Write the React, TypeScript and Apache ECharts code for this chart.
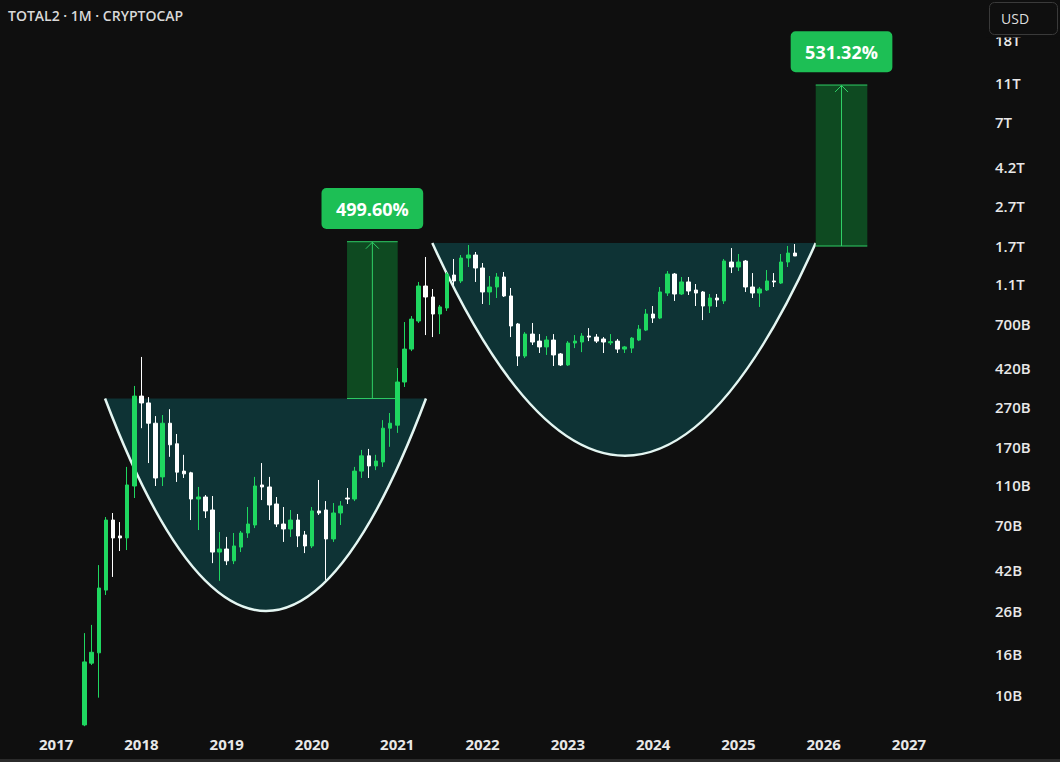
import React, { useEffect, useRef } from "react";
import * as echarts from "echarts";

// Monthly TOTAL2 candles, values in billions of USD (May 2017 .. Sep 2025)
const firstYear = 2017;
const firstMonthNum = 5;
const opens = [
  7.1, 14.4, 16.2, 33.2, 74.0, 61.7, 60.3, 109.2,
  305.5, 282.4, 224, 121.2, 224, 177, 129.5, 127, 94.1, 96.3, 83.0, 51.3,
  53.1, 46.4, 54.3, 63.8, 69.9, 110.5, 108, 88.9, 70.7, 66.8, 74.0, 62.4,
  55.0, 82.1, 83.0, 59.6, 80.2, 95.2, 94.1, 129.5, 154.2, 137.4, 143.7, 211.6,
  219, 358.8, 523, 721, 1076, 949, 781, 837, 1220, 1140, 1482, 1534,
  1322, 1005, 1064, 1193, 960, 697, 483, 621, 573, 536, 580, 494.6,
  436, 560.6, 567, 607, 600, 587, 562, 573, 523, 529, 580, 650,
  781, 746, 993, 1234, 982, 1127, 1028, 1005, 856, 938, 907, 1416,
  1337, 1432, 1064, 993, 1028, 1140, 1113, 1416, 1569,
];
const closes = [
  14.6, 16.3, 34.0, 74.0, 60.3, 60.3, 110.5, 305.5,
  282.4, 224, 119.7, 224, 175, 128, 125.5, 94.1, 96.3, 82.1, 51.3, 53.1,
  46.4, 55.0, 63.8, 70.7, 109.2, 108, 87.9, 70.7, 66.8, 74.0, 61.7, 55.0,
  82.1, 80.2, 59.6, 80.2, 86.9, 94.1, 129.5, 154.2, 137.4, 145.3, 211.6, 224,
  358.8, 523, 737, 1076, 949, 781, 847, 1234, 1140, 1482, 1534, 1322,
  1005, 1064, 1193, 960, 681, 483, 621, 567, 536, 580, 489, 436,
  560.6, 573, 607, 600, 573, 567, 569, 523, 536, 593, 657, 781,
  746, 1005, 1234, 982, 1127, 1016, 993, 856, 938, 917, 1432, 1337,
  1416, 1064, 993, 1040, 1140, 1127, 1416, 1569, 1517,
];
const lows = [
  7.0, 14.1, 9.7, 31.4, 38.6, 51.9, 52.5, 95.2,
  211.6, 142, 109.2, 109.2, 152.5, 114.4, 119.7, 74, 66, 75.7, 45.2, 36.9,
  44.2, 44.7, 51.3, 60.3, 67.5, 93, 74, 68.3, 57.6, 61.0, 54.3, 50.7,
  53.7, 78.4, 37.3, 57.6, 69.9, 88.9, 91.9, 119.7, 119.7, 131, 135.9, 171,
  200.5, 339, 511, 705, 614, 600, 621, 809, 1088, 1113, 1337, 1127,
  876, 866, 938, 949, 600, 431, 472, 548, 500, 489, 431, 431,
  431, 529, 505, 573, 560.6, 500, 548, 500, 500, 500, 573, 642.6,
  705, 737, 960, 907, 971, 971, 856, 729, 790, 847, 876, 1248,
  1277, 1005, 938, 847, 1016, 1064, 1101, 1337, 1517,
];
const highs = [
  20.3, 22.3, 44.2, 76.6, 80.2, 72.3, 135.9, 343,
  478, 302, 243, 246, 263, 198, 156, 128.5, 108, 98.5, 97.4, 64.5,
  61.0, 63.8, 65.3, 85.9, 121.2, 142, 121.2, 96.3, 85.9, 83.0, 79.3, 65.3,
  85.9, 117, 91.9, 89.9, 91.9, 106.7, 135.9, 165, 166.9, 156, 232, 251.7,
  421, 712.6, 763, 1127, 1500, 1040, 866, 1263, 1466, 1534, 1720, 1588,
  1400, 1206, 1248, 1263, 1052, 705, 635, 705, 621, 607, 621, 500,
  573, 614, 628, 665, 621, 600, 621, 587, 542, 600, 689, 827,
  856, 1064, 1277, 1248, 1193, 1193, 1101, 1016, 982, 982, 1466, 1661,
  1552, 1449, 1248, 1064, 1292, 1248, 1552, 1701, 1740,
];

// Axis ticks
const yearLabels = ["2017", "2018", "2019", "2020", "2021", "2022", "2023", "2024", "2025", "2026", "2027"];
const priceTicksB = [10, 16, 26, 42, 70, 110, 170, 270, 420, 700, 1100, 1700, 2700, 4200, 7000, 11000, 18000];
const priceTickLabels = ["10B", "16B", "26B", "42B", "70B", "110B", "170B", "270B", "420B", "700B", "1.1T", "1.7T", "2.7T", "4.2T", "7T", "11T", "18T"];
const yRangeB = [6.701, 28358];
const xRangeMonths = [-7.9, 130.7]; // months counted from Jan 2017

// Cup annotations (month index from Jan 2017, values in billions)
const cupLeftMonth = [6.88, 52.93];
const cupRightMonth = [52.04, 106.88];
const cupBottomMonth = [29.53, 80.04];
const cupRimB = [297, 1760];
const cupBottomB = [26.15, 154.5];

// Measured-move boxes
const boxLeftMonth = [40.93, 106.88];
const boxRightMonth = [48.06, 114.14];
const boxFromB = [297, 1700];
const boxToB = [1786, 10723];
const boxLabels = ["499.60%", "531.32%"];

const months: string[] = opens.map((_, i) => {
  const t = firstYear * 12 + (firstMonthNum - 1) + i;
  const y = Math.floor(t / 12);
  const m = (t % 12) + 1;
  return `${y}-${String(m).padStart(2, "0")}`;
});
const monthIndex = (label: string) => {
  const [y, m] = label.split("-").map(Number);
  return (y - firstYear) * 12 + (m - 1);
};

const GREEN = "#1fd760";
const WHITE = "#ffffff";
const BG = "#0f0f0f";
const FONT = "'Open Sans', 'Noto Sans', sans-serif";
const lg = (v: number) => Math.log10(v);

export default function App() {
  const ref = useRef<HTMLDivElement>(null);
  useEffect(() => {
    if (!ref.current) return;
    const chart = echarts.init(ref.current, undefined, { renderer: "svg" });
    const candleData = months.map((mo, i) => [monthIndex(mo), lg(opens[i]), lg(closes[i]), lg(lows[i]), lg(highs[i])]);
    const tickLogs = priceTicksB.map(lg);

    const option: any = {
      animation: false,
      backgroundColor: BG,
      grid: { left: 0, right: 75, top: 0, bottom: 32, containLabel: false },
      xAxis: {
        type: "value",
        min: xRangeMonths[0],
        max: xRangeMonths[1],
        axisLine: { show: false },
        axisTick: { show: false },
        splitLine: { show: false },
        axisLabel: {
          customValues: yearLabels.map((_, i) => i * 12),
          formatter: (v: number) => yearLabels[Math.round(v / 12)] ?? "",
          color: "#e8e8e8",
          fontSize: 15,
          fontWeight: 700,
          fontFamily: FONT,
          margin: 6,
        },
      },
      yAxis: {
        type: "value",
        position: "right",
        min: lg(yRangeB[0]),
        max: lg(yRangeB[1]),
        axisLine: { show: false },
        axisTick: { show: false },
        splitLine: { show: false },
        axisLabel: {
          customValues: tickLogs,
          formatter: (v: number) => {
            let best = 0;
            tickLogs.forEach((t, i) => {
              if (Math.abs(t - v) < Math.abs(tickLogs[best] - v)) best = i;
            });
            return priceTickLabels[best];
          },
          color: "#e8e8e8",
          fontSize: 15,
          fontWeight: 600,
          fontFamily: FONT,
          margin: 10,
          align: "left",
        },
      },
      series: [
        {
          type: "custom",
          z: 1,
          silent: true,
          data: cupRimB.map((r, i) => [cupBottomMonth[i], lg(r)]),
          encode: { x: 0, y: 1 },
          renderItem: (params: any, api: any) => {
            const i = params.dataIndex;
            const p0 = api.coord([cupLeftMonth[i], lg(cupRimB[i])]);
            const p2 = api.coord([cupRightMonth[i], lg(cupRimB[i])]);
            const pb = api.coord([cupBottomMonth[i], lg(cupBottomB[i])]);
            const cx = 2 * pb[0] - (p0[0] + p2[0]) / 2;
            const cy = 2 * pb[1] - (p0[1] + p2[1]) / 2;
            const d = `M${p0[0]},${p0[1]} Q${cx},${cy} ${p2[0]},${p2[1]}`;
            return {
              type: "group",
              children: [
                { type: "path", shape: { pathData: d + " Z" }, style: { fill: "#0e3335", stroke: "none" } },
                { type: "path", shape: { pathData: d }, style: { fill: "none", stroke: "#e4f6f2", lineWidth: 2.5 } },
              ],
            };
          },
        },
        {
          type: "custom",
          z: 2,
          silent: true,
          data: boxFromB.map((b, i) => [boxLeftMonth[i], lg(b)]),
          encode: { x: 0, y: 1 },
          renderItem: (params: any, api: any) => {
            const i = params.dataIndex;
            const bl = api.coord([boxLeftMonth[i], lg(boxFromB[i])]);
            const tr = api.coord([boxRightMonth[i], lg(boxToB[i])]);
            const x0 = bl[0], x1 = tr[0], yb = bl[1], yt = tr[1];
            const cx = (x0 + x1) / 2;
            const lw = 101.7, lh = 41, gap = 12.7;
            return {
              type: "group",
              children: [
                { type: "rect", shape: { x: x0, y: yt, width: x1 - x0, height: yb - yt }, style: { fill: "#0e4a21" } },
                { type: "line", shape: { x1: x0, y1: yt, x2: x1, y2: yt }, style: { stroke: "#2fcf66", lineWidth: 1 } },
                { type: "line", shape: { x1: x0, y1: yb, x2: x1, y2: yb }, style: { stroke: "#2fcf66", lineWidth: 1 } },
                { type: "line", shape: { x1: cx, y1: yb, x2: cx, y2: yt + 0.5 }, style: { stroke: "#2fcf66", lineWidth: 1 } },
                { type: "polyline", shape: { points: [[cx - 6.5, yt + 7], [cx, yt + 0.5], [cx + 6.5, yt + 7]] }, style: { stroke: "#2fcf66", lineWidth: 1, fill: "none" } },
                { type: "rect", shape: { x: cx - lw / 2, y: yt - gap - lh, width: lw, height: lh, r: 5 }, style: { fill: "#1dbf55" } },
                {
                  type: "text",
                  x: cx,
                  y: yt - gap - lh / 2,
                  style: {
                    text: boxLabels[i],
                    fill: "#ffffff",
                    fontSize: 18,
                    fontWeight: 700,
                    fontFamily: FONT,
                    align: "center",
                    verticalAlign: "middle",
                  },
                },
              ],
            };
          },
        },
        {
          type: "candlestick",
          z: 5,
          silent: true,
          data: candleData,
          encode: { x: 0, y: [1, 2, 3, 4] },
          barWidth: 4,
          itemStyle: {
            color: GREEN,
            color0: WHITE,
            borderColor: GREEN,
            borderColor0: WHITE,
            borderColorDoji: WHITE,
            borderWidth: 1,
          },
        },
      ],
      graphic: [
        {
          type: "text",
          left: 8,
          top: 8,
          z: 100,
          style: { text: "TOTAL2 · 1M · CRYPTOCAP", fill: "#d9d9d9", fontSize: 14, fontWeight: 600, fontFamily: FONT },
        },
        {
          type: "group",
          z: 100,
          children: [
            { type: "rect", z: 99, shape: { x: 986, y: 0, width: 74, height: 37.5 }, style: { fill: BG } },
            { type: "rect", z: 100, shape: { x: 989.5, y: 2.5, width: 68, height: 32, r: 5 }, style: { fill: BG, stroke: "#3a3a3a", lineWidth: 1 } },
            {
              type: "text",
              z: 101,
              x: 1001,
              y: 18.5,
              style: { text: "USD", fill: "#dedede", fontSize: 14, fontWeight: 500, fontFamily: FONT, verticalAlign: "middle", align: "left" },
            },
          ],
        },
        { type: "rect", z: 100, shape: { x: 0, y: 759, width: 1060, height: 3 }, style: { fill: "#2b2b2b" } },
      ],
    };
    chart.setOption(option);
    return () => chart.dispose();
  }, []);
  return <div ref={ref} style={{ position: "fixed", left: 0, top: 0, width: 1060, height: 762 }} />;
}
